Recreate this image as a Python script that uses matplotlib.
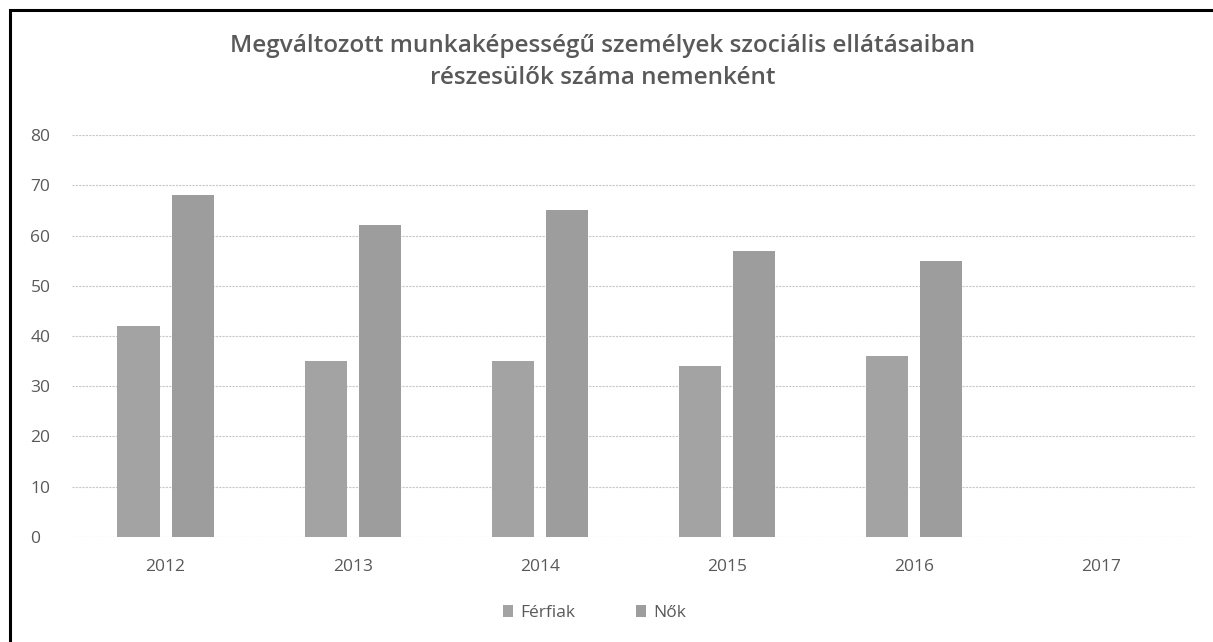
import numpy as np
import matplotlib.pyplot as plt
from matplotlib.patches import Rectangle

years = ["2012", "2013", "2014", "2015", "2016", "2017"]
ferfiak = [42, 35, 35, 34, 36, np.nan]
nok = [68, 62, 65, 57, 55, np.nan]

title = "Megváltozott munkaképességű személyek szociális ellátásaiban\nrészesülők száma nemenként"
text_col = "#595959"

plt.rcParams["font.family"] = ["Open Sans", "DejaVu Sans"]

fig = plt.figure(figsize=(12.13, 6.42), dpi=100)
ax = fig.add_axes([0.0594, 0.1636, 0.9256, 0.6261])

x = np.arange(len(years))
w = 0.225
ax.bar(x - 0.145, ferfiak, w, color="#a3a3a3", label="Férfiak", zorder=3)
ax.bar(x + 0.145, nok, w, color="#9d9d9d", label="Nők", zorder=3)

ax.set_xlim(-0.5, len(years) - 0.5)
ax.set_ylim(0, 80)
ax.set_yticks(range(0, 81, 10))
ax.set_xticks(x)
ax.set_xticklabels(years)
ax.tick_params(length=0, labelsize=12.5, colors=text_col, pad=16)
ax.tick_params(axis="y", pad=30)
for lbl in ax.get_yticklabels():
    lbl.set_horizontalalignment("left")
ax.grid(axis="y", color="#c8c8c8", linewidth=0.8, linestyle=(0, (2, 1)), zorder=0)
for s in ax.spines.values():
    s.set_visible(False)

fig.text(0.497, 0.903, title, ha="center", va="center", fontsize=17.5,
         color=text_col, fontweight="semibold", linespacing=1.45)

fig.legend(loc="center", bbox_to_anchor=(0.49, 0.045), ncol=2, frameon=False,
           fontsize=12.5, labelcolor=text_col, handlelength=0.6, handleheight=0.6,
           handletextpad=0.4, columnspacing=3.5)

# black frame around the chart area (cut off at right/bottom in the scan)
fig.patches.append(Rectangle((10 / 1213, -0.05), 1.1, 1 - 10 / 642 + 0.05,
                             transform=fig.transFigure, fill=False,
                             edgecolor="black", linewidth=2.2))

fig.savefig("out.png", dpi=100)
